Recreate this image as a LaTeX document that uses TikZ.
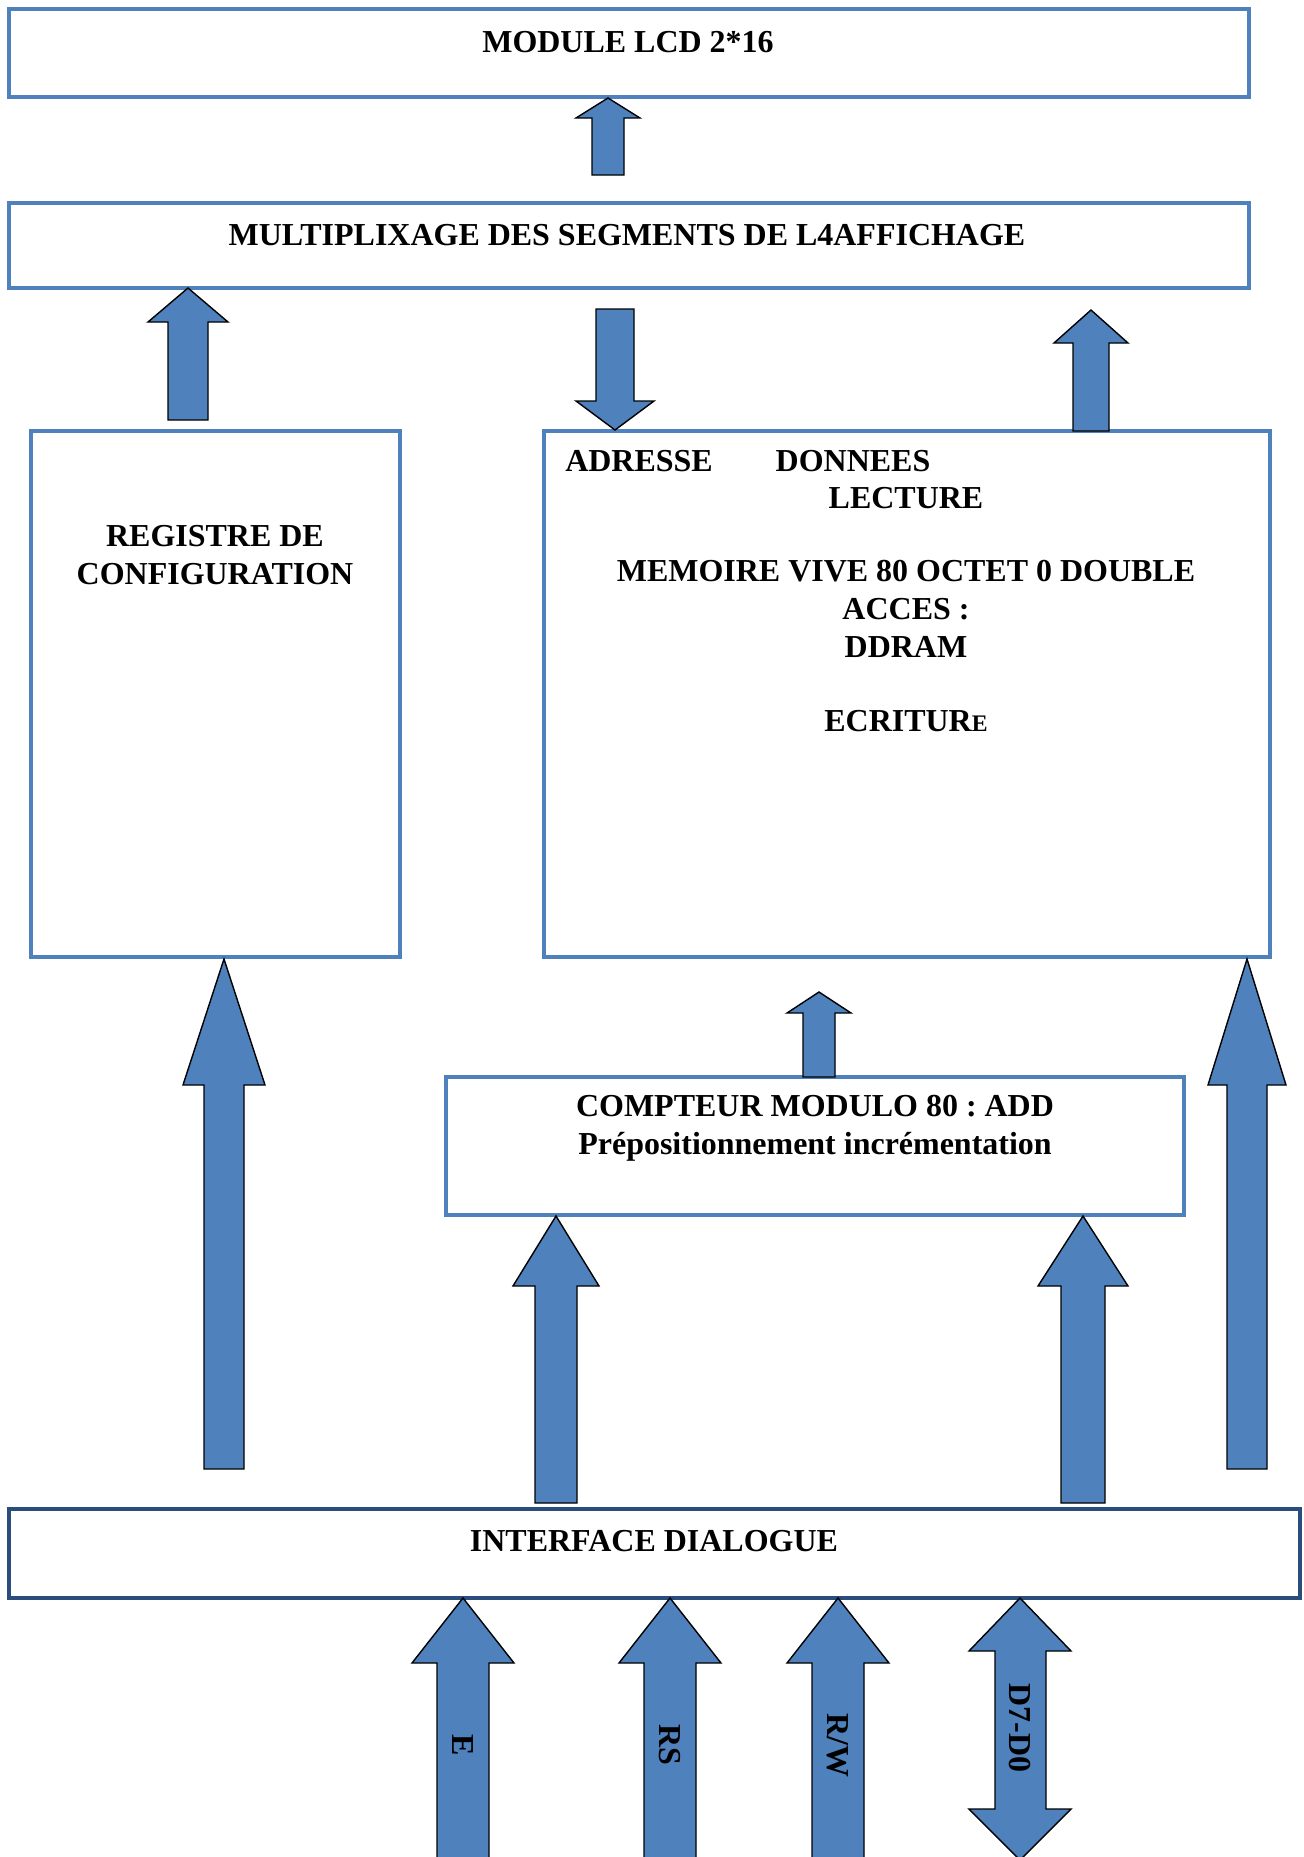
\documentclass[tikz,border=0pt]{standalone}
\usepackage{fontspec}
\setmainfont{Liberation Serif}
\frenchspacing

\definecolor{boxblue}{HTML}{4F81BD}
\definecolor{navyline}{HTML}{2A4D7E}

\tikzset{
  box/.style={draw=boxblue, line width=2.2pt, inner sep=0pt},
  ifbox/.style={draw=navyline, line width=2.6pt, inner sep=0pt},
  txt/.style={font=\fontsize{18.2}{21.5}\selectfont\bfseries, inner sep=0pt, align=center},
  blk/.style={fill=boxblue, draw=black, line width=0.8pt, line join=miter}
}

% block arrow: x, tip y, head y, tail y, half head, half shaft
\newcommand{\blkup}[6]{%
  \filldraw[blk] (#1,#2) -- (#1+#5,#3) -- (#1+#6,#3) -- (#1+#6,#4)
    -- (#1-#6,#4) -- (#1-#6,#3) -- (#1-#5,#3) -- cycle;}

\begin{document}
\begin{tikzpicture}[x=0.02cm, y=-0.02cm]
    \useasboundingbox (0,0) rectangle (1304,1857);
    \fill[white] (0,0) rectangle (1304,1857);

    % Boxes
    \node[box, minimum width=24.8cm, minimum height=1.76cm] (lcd) at (629,53) {};
    \node[box, minimum width=24.8cm, minimum height=1.70cm] (mux) at (629,245.5) {};
    \node[box, minimum width=7.38cm, minimum height=10.52cm] (reg) at (215.5,694) {};
    \node[box, minimum width=14.52cm, minimum height=10.52cm] (mem) at (907,694) {};
    \node[box, minimum width=14.76cm, minimum height=2.76cm] (cpt) at (815,1146) {};
    \node[ifbox, minimum width=25.82cm, minimum height=1.78cm] (itf) at (654.5,1553.5) {};

    % Texts
    \node[txt] (lcdtxt) at (628,42) {MODULE LCD 2*16};
    \node[txt] (muxtxt) at (627,235) {MULTIPLIXAGE DES SEGMENTS DE L4AFFICHAGE};
    \node[txt] (regtxt) at (215,555) {REGISTRE DE\\CONFIGURATION};
    \node[txt] (adrtxt) at (639,461) {ADRESSE};
    \node[txt] (dontxt) at (853,461) {DONNEES};
    \node[txt] (lectxt) at (906,498) {LECTURE};
    \node[txt] (memtxt) at (906,609) {MEMOIRE VIVE 80 OCTET 0 DOUBLE\\ACCES :\\DDRAM};
    \node[txt] (ecrtxt) at (906,721) {ECRITUR{\fontsize{13.5}{16}\selectfont E}};
    \node[txt] (cpttxt) at (815,1128) {COMPTEUR MODULO 80 : ADD\\Prépositionnement incrémentation};
    \node[txt] (itftxt) at (654,1541) {INTERFACE DIALOGUE};

    % Block arrows between boxes
    \blkup{608}{98}{118}{175}{32}{16}
    \blkup{188}{288}{322}{420}{40}{20}
    \blkup{615}{430}{401}{309}{39}{19}
    \blkup{1091}{310}{343}{431}{37}{18}
    \blkup{819}{992}{1013}{1077}{32}{16}
    \blkup{224}{959}{1085}{1469}{41}{20}
    \blkup{1247}{959}{1085}{1469}{39}{20}
    \blkup{556}{1216}{1286}{1503}{43}{21}
    \blkup{1083}{1216}{1286}{1503}{45}{22}

    % Input lines
    \foreach \x in {463,670,838} {
      \blkup{\x}{1598}{1663}{1875}{51}{26}
    }
    \filldraw[blk] (1020,1598) -- (1071,1651) -- (1046,1651) -- (1046,1809)
      -- (1071,1809) -- (1020,1860) -- (969,1809) -- (995,1809) -- (995,1651)
      -- (969,1651) -- cycle;
    \node[txt, rotate=-90] (etxt) at (463,1745) {E};
    \node[txt, rotate=-90] (rstxt) at (670,1745) {RS};
    \node[txt, rotate=-90] (rwtxt) at (838,1745) {R/W};
    \node[txt, rotate=-90] (dtxt) at (1020,1728) {D7-D0};
\end{tikzpicture}
\end{document}
